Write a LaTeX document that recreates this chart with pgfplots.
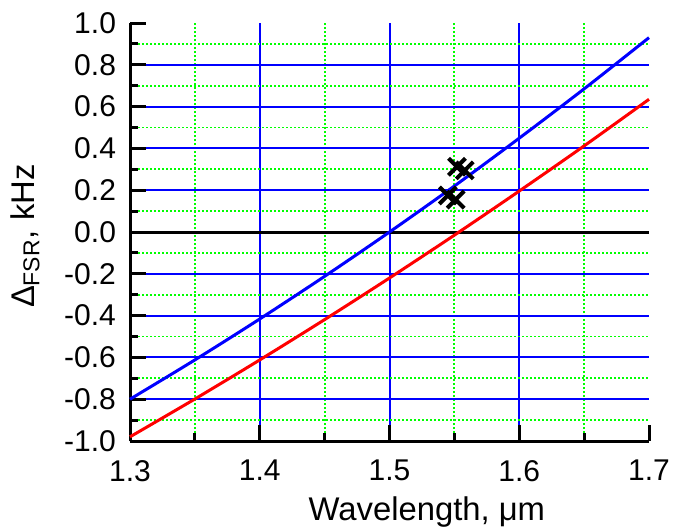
\documentclass[border=0pt]{standalone}
\usepackage{fontspec}
\setmainfont{Liberation Sans}
\usepackage{pgfplots}
\pgfplotsset{compat=1.18}
\begin{document}
\begin{tikzpicture}
\begin{axis}[name=ax, scale only axis, width=259.5pt, height=209pt,
  xmin=1.3, xmax=1.7, ymin=-1, ymax=1,
  axis x line*=bottom, axis y line*=left,
  axis line style={line width=1.5pt, -, black},
  xtick={1.3,1.4,1.5,1.6}, xticklabels={1.3,1.4,1.5,1.6},
  minor xtick={1.35,1.45,1.55,1.65},
  extra x ticks={1.7}, extra x tick labels={1.7},
  extra x tick style={grid=none},
  ytick={-1,-0.8,-0.6,-0.4,-0.2,0,0.2,0.4,0.6,0.8},
  yticklabels={-1.0,-0.8,-0.6,-0.4,-0.2,0.0,0.2,0.4,0.6,0.8},
  minor ytick={-0.9,-0.7,-0.5,-0.3,-0.1,0.1,0.3,0.5,0.7,0.9},
  extra y ticks={1}, extra y tick labels={1.0},
  extra y tick style={grid=none},
  tick align=inside, major tick length=8pt, minor tick length=4pt,
  tick style={black, line width=1.5pt},
  grid=both,
  major x grid style={blue, line width=1pt},
  major y grid style={blue, line width=1pt},
  minor x grid style={green, line width=0.9pt, dash pattern=on 1pt off 1pt},
  minor y grid style={green, line width=0.9pt, dash pattern=on 1pt off 1pt},
  x tick label style={font=\fontsize{15}{17}\selectfont, yshift=-6pt},
  y tick label style={font=\fontsize{15}{17}\selectfont, xshift=-3.5pt},
  xlabel={Wavelength, μm},
  ylabel={Δ\textsubscript{FSR}, kHz},
  label style={font=\fontsize{16.4}{18}\selectfont},
  xlabel style={at={(axis description cs:0.572,0)}, anchor=base, yshift=-39.5pt},
  ylabel style={at={(axis description cs:-0.2023,0.49)}, anchor=center},
  clip=false,
]
\addplot[black, line width=1.5pt] coordinates {(1.3,0) (1.7,0)};
\addplot[blue, line width=1.5pt, smooth] coordinates {
 (1.3,-0.8) (1.35,-0.612) (1.4,-0.416) (1.45,-0.212) (1.5,0.0)
 (1.55,0.220) (1.6,0.449) (1.65,0.685) (1.7,0.93)};
\addplot[red, line width=1.5pt, smooth] coordinates {
 (1.3,-0.98) (1.35,-0.799) (1.4,-0.612) (1.45,-0.419) (1.5,-0.22)
 (1.55,-0.015) (1.6,0.196) (1.65,0.412) (1.7,0.635)};
\addplot[only marks, mark=x, mark size=6pt, line width=2pt, black] coordinates {
 (1.552,0.312) (1.558,0.295) (1.545,0.175) (1.551,0.155)};
\end{axis}
\pgfresetboundingbox
\path ([xshift=-65pt,yshift=-43pt]ax.south west) rectangle ([xshift=12pt,yshift=11.5pt]ax.north east);
\end{tikzpicture}
\end{document}
